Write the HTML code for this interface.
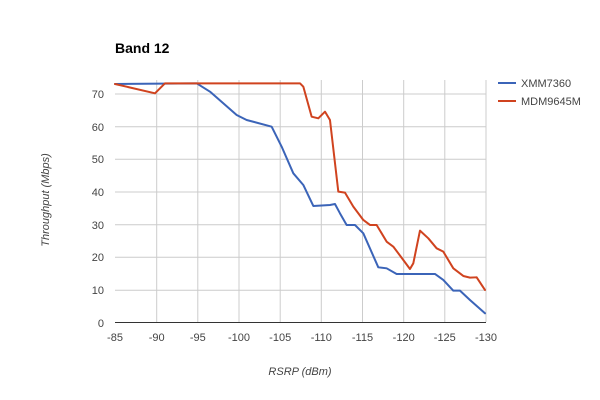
<!DOCTYPE html>
<html><head><style>body{margin:0;background:#fff}svg{display:block}text{font-family:"Liberation Sans",sans-serif;fill:#444}</style></head>
<body>
<svg width="600" height="400" viewBox="0 0 600 400">
<text x="115" y="53" font-size="14" font-weight="bold" style="fill:#000">Band 12</text>
<g stroke="#ccc" stroke-width="1">
<line x1="115" y1="94" x2="486" y2="94"/><line x1="115" y1="126.7" x2="486" y2="126.7"/><line x1="115" y1="159.3" x2="486" y2="159.3"/><line x1="115" y1="192" x2="486" y2="192"/><line x1="115" y1="224.7" x2="486" y2="224.7"/><line x1="115" y1="257.3" x2="486" y2="257.3"/><line x1="115" y1="290.3" x2="486" y2="290.3"/>
<line x1="156.7" y1="80" x2="156.7" y2="322"/><line x1="197.8" y1="80" x2="197.8" y2="322"/><line x1="239" y1="80" x2="239" y2="322"/><line x1="280.2" y1="80" x2="280.2" y2="322"/><line x1="321.3" y1="80" x2="321.3" y2="322"/><line x1="362.5" y1="80" x2="362.5" y2="322"/><line x1="403.7" y1="80" x2="403.7" y2="322"/><line x1="444.8" y1="80" x2="444.8" y2="322"/><line x1="486" y1="80" x2="486" y2="322"/>
</g>
<line x1="115" y1="322.5" x2="486" y2="322.5" stroke="#333" stroke-width="1"/>
<g font-size="11" text-anchor="end">
<text x="104" y="98">70</text><text x="104" y="131">60</text><text x="104" y="163">50</text><text x="104" y="196">40</text><text x="104" y="229">30</text><text x="104" y="261">20</text><text x="104" y="294">10</text><text x="104" y="327">0</text>
</g>
<g font-size="11" text-anchor="middle">
<text x="115" y="341">-85</text><text x="156.7" y="341">-90</text><text x="197.8" y="341">-95</text><text x="239" y="341">-100</text><text x="280.2" y="341">-105</text><text x="321.3" y="341">-110</text><text x="362.5" y="341">-115</text><text x="403.7" y="341">-120</text><text x="444.8" y="341">-125</text><text x="486" y="341">-130</text>
</g>
<text x="300" y="375" font-size="11" font-style="italic" text-anchor="middle">RSRP (dBm)</text>
<text transform="translate(49,200) rotate(-90)" font-size="11" font-style="italic" text-anchor="middle">Throughput (Mbps)</text>
<g transform="translate(100,70) scale(0.3333)" fill="none" stroke-width="6" stroke-linejoin="round" stroke-linecap="round">
<polyline stroke="#3b64b8" points="45,42 290,40 330,65 410,135 440,150 515,170 545,230 580,310 610,345 640,408 690,405 705,402 720,430 740,465 765,465 790,490 835,592 860,595 890,612 960,612 1005,612 1030,630 1060,662 1080,662 1110,690 1155,730"/>
<polyline stroke="#d0431f" points="45,42 165,70 195,40 600,40 610,50 635,140 655,145 675,125 690,150 715,365 735,368 760,410 790,450 810,465 830,465 860,515 880,530 910,570 930,597 940,580 960,482 985,505 1010,535 1030,545 1060,595 1090,618 1110,623 1130,622 1155,660"/>
</g>
<line x1="498" y1="83" x2="516" y2="83" stroke="#3b64b8" stroke-width="2"/>
<text x="521" y="87" font-size="11">XMM7360</text>
<line x1="498" y1="101" x2="516" y2="101" stroke="#d0431f" stroke-width="2"/>
<text x="521" y="105" font-size="11">MDM9645M</text>
</svg>
</body></html>
